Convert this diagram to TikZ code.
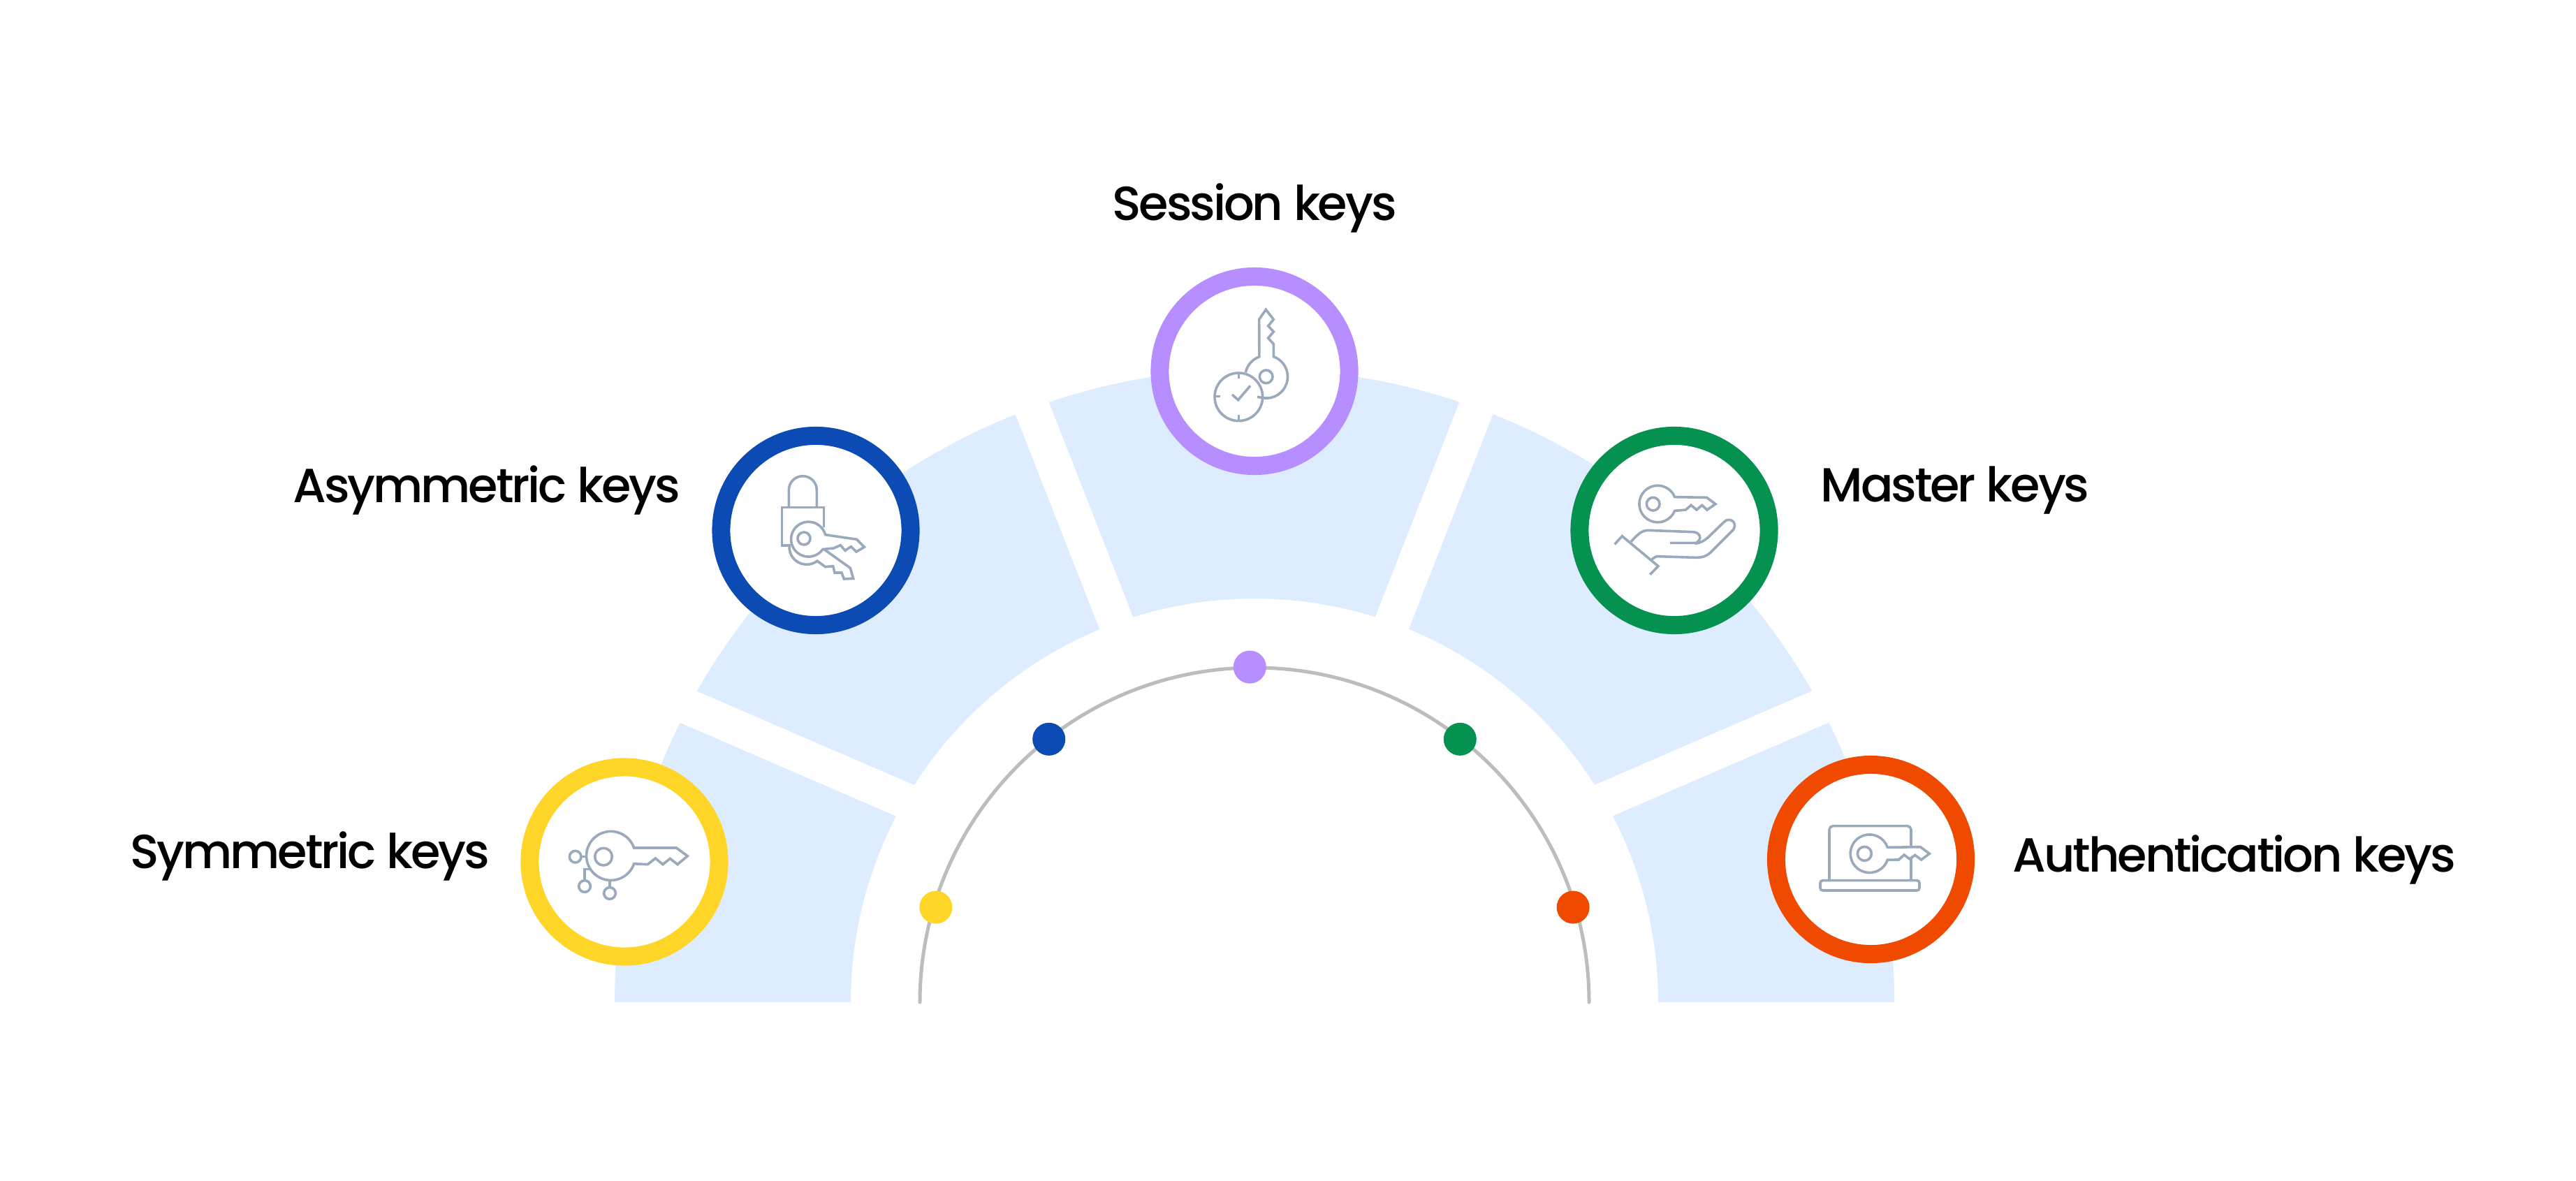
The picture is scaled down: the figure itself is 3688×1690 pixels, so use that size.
\documentclass[tikz,border=0pt]{standalone}
\usepackage{fontspec}
\usepackage{tikz}
\usetikzlibrary{calc}
\newfontfamily\labelfont[LetterSpace=-4.5]{Poppins Medium}
\definecolor{bandblue}{HTML}{DDECFE}
\definecolor{symyellow}{HTML}{FFD527}
\definecolor{asymblue}{HTML}{0B4BB3}
\definecolor{sesspurple}{HTML}{B68EFF}
\definecolor{mastgreen}{HTML}{05914F}
\definecolor{authorange}{HTML}{EF4A00}
\definecolor{icongrey}{HTML}{9AA9BC}
\definecolor{arcgrey}{HTML}{BDBDBD}
\tikzset{
    keyring/.style={circle, fill=white, line width=0.26cm, minimum size=2.71cm, inner sep=0pt, outer sep=0pt},
    keydot/.style={circle, minimum size=0.47cm, inner sep=0pt, outer sep=0pt},
    keylabel/.style={font=\labelfont\fontsize{19.5}{24}\selectfont, inner sep=0pt, text=black},
    bandcut/.style={white, line width=0.51cm},
    iconline/.style={icongrey, line width=0.036cm, line join=miter},
}

\begin{document}
\begin{tikzpicture}[x=0.01cm, y=0.01cm]
        \useasboundingbox (0,0) rectangle (3688,-1690);
        \fill[white] (0,0) rectangle (3688,-1690);
        \coordinate (hub) at (1796,-1435);
        \fill[bandblue] ($(hub)+(-916,0)$) arc[start angle=180, end angle=0, x radius=916, y radius=907]
            -- ($(hub)+(578,0)$) arc[start angle=0, end angle=180, radius=578] -- cycle;
        \coordinate (cutA) at (1332,-1162);
        \coordinate (cutB) at (948,-996);
        \coordinate (cutC) at (1613,-930);
        \coordinate (cutD) at (1463,-547);
        \coordinate (cutE) at (1978,-930);
        \coordinate (cutF) at (2128,-547);
        \coordinate (cutG) at (2259,-1162);
        \coordinate (cutH) at (2643,-996);
        \draw[bandcut] (cutA) -- (cutB);
        \draw[bandcut] (cutC) -- (cutD);
        \draw[bandcut] (cutE) -- (cutF);
        \draw[bandcut] (cutG) -- (cutH);
        \draw[arcgrey, line width=0.05cm, line cap=round] ($(hub)+(-479,0)$) arc[start angle=180, end angle=0, radius=479];
        \node[keydot, fill=symyellow]  (symdot)  at ($(hub)+(163.4:476)$) {};
        \node[keydot, fill=asymblue]   (asymdot) at ($(hub)+(128.0:478)$) {};
        \node[keydot, fill=sesspurple] (sessdot) at ($(hub)+( 90.8:480)$) {};
        \node[keydot, fill=mastgreen]  (mastdot) at ($(hub)+( 52.0:478)$) {};
        \node[keydot, fill=authorange] (authdot) at ($(hub)+( 16.6:476)$) {};
        \node[keyring, draw=symyellow]  (symring)  at ( 894,-1234) {};
        \node[keyring, draw=asymblue]   (asymring) at (1168,-759.5) {};
        \node[keyring, draw=sesspurple] (sessring) at (1796,-531.5) {};
        \node[keyring, draw=mastgreen]  (mastring) at (2397,-759.5) {};
        \node[keyring, draw=authorange] (authring) at (2678.5,-1230.5) {};
        \node[keylabel, anchor=base east] (symlabel)  at ( 702,-1243.5) {Symmetric keys};
        \node[keylabel, anchor=base east] (asymlabel) at ( 975,-719) {Asymmetric keys};
        \node[keylabel, anchor=base]      (sesslabel) at (1796,-315) {Session keys};
        \node[keylabel, anchor=base west] (mastlabel) at (2606,-718) {Master keys};
        \node[keylabel, anchor=base west] (authlabel) at (2881,-1248) {Authentication keys};
        \begin{scope}[shift={(720,-1060)}, scale=0.3333]
            \draw[iconline] (563,-462) arc[start angle=19, end angle=341, radius=105] -- (622,-533) -- (655,-507) -- (687,-533)
                -- (718,-508) -- (750,-533) -- (793,-497) -- (745,-462) -- cycle;
            \draw[iconline] (432,-500) circle[radius=37];
            \draw[iconline] (311,-500) circle[radius=25];
            \draw[iconline] (351,-627) circle[radius=25];
            \draw[iconline] (459,-657) circle[radius=25];
            \draw[iconline] (336,-500) -- (360,-500);
            \draw[iconline] (351,-602) -- (351,-553) -- (380,-553);
            \draw[iconline] (459,-632) -- (459,-602);
        \end{scope}
        \begin{scope}[shift={(1000,-590)}, scale=0.3333]
            \draw[iconline] (388,-410) -- (388,-335) arc[start angle=180, end angle=0, radius=60] -- (508,-410);
            \draw[iconline] (538,-495) -- (538,-410) -- (358,-410) -- (358,-573) -- (395,-573);
            \draw[iconline] (545,-527) arc[start angle=15, end angle=325, radius=75] -- (580,-585) -- (610,-572) -- (630,-595)
                -- (655,-578) -- (678,-600) -- (712,-580) -- (680,-547) -- cycle;
            \draw[iconline] (453,-543) circle[radius=27];
            \draw[iconline] (390.4,-572) arc[start angle=174, end angle=307, radius=75] -- (545,-665) -- (578,-662) -- (585,-690)
                -- (615,-690) -- (625,-717) -- (665,-715) -- (652,-670) -- (540,-590);
        \end{scope}
        \begin{scope}[shift={(1620,-360)}, scale=0.3333]
            \draw[iconline] (490,-520) arc[start angle=168, end angle=110, radius=92] -- (548,-292) -- (577,-250) -- (610,-292)
                -- (587,-320) -- (610,-345) -- (587,-372) -- (610,-398) -- (610,-452)
                arc[start angle=70, end angle=-95, radius=92] -- (540,-625);
            \draw[iconline] (578,-538) circle[radius=28];
            \draw[iconline] (460,-625) circle[radius=103];
            \draw[iconline] (460,-522) -- (460,-545);
            \draw[iconline] (460,-728) -- (460,-702);
            \draw[iconline] (358,-623) -- (382,-623);
            \draw[iconline] (432,-615) -- (458,-638) -- (510,-577);
        \end{scope}
        \begin{scope}[shift={(2230,-590)}, scale=0.3333]
            \draw[iconline] (503,-365) arc[start angle=22, end angle=338, radius=79] -- (550,-420) -- (573,-400) -- (597,-420)
                -- (620,-400) -- (642,-420) -- (678,-395) -- (640,-367) -- cycle;
            \draw[iconline] (410,-395) circle[radius=28];
            \draw[iconline] (245,-568) -- (277,-533) -- (432,-662) -- (397,-698);
            \draw[iconline] (315,-557) .. controls (345,-525) and (360,-508) .. (390,-508) -- (580,-515)
                .. controls (610,-515) and (625,-545) .. (595,-562) -- (483,-562);
            \draw[iconline] (590,-565) .. controls (620,-562) and (640,-545) .. (655,-530) -- (715,-472)
                .. controls (735,-450) and (775,-470) .. (755,-505) -- (665,-595)
                .. controls (640,-622) and (620,-625) .. (590,-625) -- (430,-620)
                .. controls (420,-620) and (410,-628) .. (403,-635);
        \end{scope}
        \begin{scope}[shift={(2510,-1060)}, scale=0.3333]
            \draw[iconline, rounded corners=1.5pt] (327,-602) -- (327,-368) -- (678,-368) -- (678,-458);
            \draw[iconline] (678,-505) -- (678,-602);
            \draw[iconline, rounded corners=1pt] (288,-602) rectangle (714,-645);
            \draw[iconline] (577,-460) arc[start angle=19, end angle=341, radius=82] -- (625,-513) -- (648,-492) -- (672,-510)
                -- (695,-493) -- (722,-513) -- (757,-487) -- (718,-458) -- cycle;
            \draw[iconline] (478,-487) circle[radius=30];
        \end{scope}
    \end{tikzpicture}
\end{document}
